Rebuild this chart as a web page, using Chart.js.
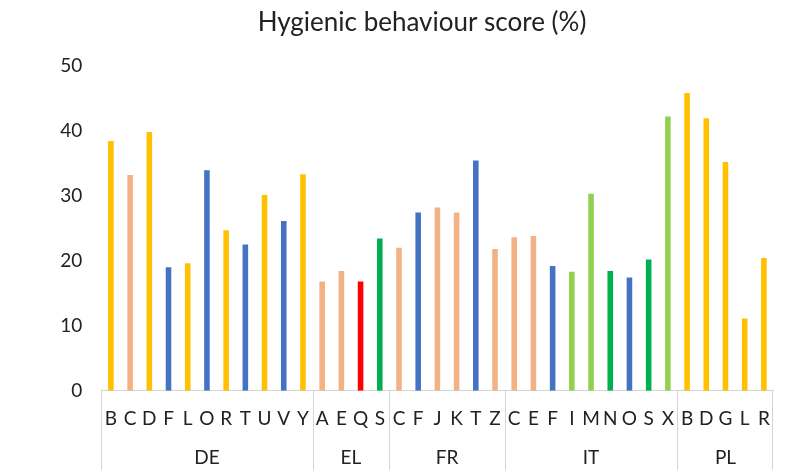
<!DOCTYPE html>
<html>
<head>
<meta charset="utf-8">
<script src="https://cdn.jsdelivr.net/npm/chart.js@4.4.1/dist/chart.umd.min.js"></script>
<style>
  html, body { margin: 0; padding: 0; background: #fff; }
  #wrap { width: 787px; height: 470px; position: relative; }
</style>
</head>
<body>
<div id="wrap"><canvas id="chart"></canvas></div>
<script>
// Data
const letters = ['B','C','D','F','L','O','R','T','U','V','Y',
                 'A','E','Q','S',
                 'C','F','J','K','T','Z',
                 'C','E','F','I','M','N','O','S','X',
                 'B','D','G','L','R'];
const groups = ['DE', 'EL', 'FR', 'IT', 'PL'];
const groupSizes = [11, 4, 6, 9, 5];
const scores = [38.4, 33.2, 39.8, 19.0, 19.6, 33.9, 24.7, 22.5, 30.1, 26.1, 33.3,
                16.8, 18.4, 16.8, 23.4,
                22.0, 27.4, 28.2, 27.4, 35.4, 21.8,
                23.6, 23.8, 19.2, 18.3, 30.3, 18.4, 17.4, 20.2, 42.2,
                45.8, 41.9, 35.2, 11.1, 20.4];
// colour class of each bar
const barClass = ['y','s','y','b','y','b','y','b','y','b','y',
                  's','s','r','g',
                  's','b','s','s','b','s',
                  's','s','b','l','l','g','b','g','l',
                  'y','y','y','y','y'];
const yTicks = [0, 10, 20, 30, 40, 50];
const chartTitle = 'Hygienic behaviour score (%)';

const palette = { y: '#FFC000', s: '#F4B183', b: '#4472C4', r: '#FF0000', g: '#00B050', l: '#92D050' };
const FONT = 'Lato, "Open Sans", sans-serif';

// title, separators + group names under the letters
const groupAxis = {
    id: 'groupAxis',
    afterDraw(chart) {
        const ctx = chart.ctx;
        const x = chart.scales.x;
        const top = chart.chartArea.bottom;
        const bottom = chart.height;
        const half = (x.getPixelForValue(1) - x.getPixelForValue(0)) / 2;
        ctx.save();
        ctx.fillStyle = '#222';
        ctx.textAlign = 'center';
        ctx.textBaseline = 'middle';
        ctx.font = '26px ' + FONT;
        ctx.fillText(chartTitle, 422, 23);

        ctx.strokeStyle = '#d4d4d4';
        ctx.lineWidth = 1;
        ctx.font = '19px ' + FONT;
        let start = 0;
        groups.forEach((g, i) => {
            const end = start + groupSizes[i] - 1;
            const left = Math.round(x.getPixelForValue(start) - half) + 0.5;
            ctx.beginPath();
            ctx.moveTo(left, top);
            ctx.lineTo(left, bottom);
            ctx.stroke();
            const mid = (x.getPixelForValue(start) + x.getPixelForValue(end)) / 2;
            ctx.fillText(g, mid, 458);
            start = end + 1;
        });
        const right = Math.round(x.getPixelForValue(letters.length - 1) + half) - 0.5;
        ctx.beginPath();
        ctx.moveTo(right, top);
        ctx.lineTo(right, bottom);
        ctx.stroke();
        ctx.restore();
    }
};

new Chart(document.getElementById('chart').getContext('2d'), {
    type: 'bar',
    data: {
        labels: letters,
        datasets: [{
            label: chartTitle,
            data: scores,
            backgroundColor: barClass.map(c => palette[c]),
            borderWidth: 0,
            barPercentage: 0.29,
            categoryPercentage: 1
        }]
    },
    options: {
        responsive: true,
        maintainAspectRatio: false,
        animation: false,
        layout: { padding: { left: 0, right: 11, top: 65.7, bottom: 0 } },
        plugins: {
            legend: { display: false },
            tooltip: { enabled: false },
            title: { display: false }
        },
        scales: {
            x: {
                grid: { display: false, drawTicks: false },
                border: { display: true, color: '#d4d4d4', width: 1 },
                ticks: {
                    color: '#222',
                    font: { family: FONT, size: 19 },
                    padding: 17,
                    maxRotation: 0,
                    autoSkip: false
                },
                afterFit(scale) { scale.height = 79.3; }
            },
            y: {
                min: 0,
                max: 50,
                grid: { display: false, drawTicks: false },
                border: { display: false },
                afterBuildTicks(scale) { scale.ticks = yTicks.map(v => ({ value: v })); },
                ticks: {
                    color: '#222',
                    font: { family: FONT, size: 19 },
                    padding: 19
                },
                afterFit(scale) { scale.width = 101.3; }
            }
        }
    },
    plugins: [groupAxis]
});
</script>
</body>
</html>
